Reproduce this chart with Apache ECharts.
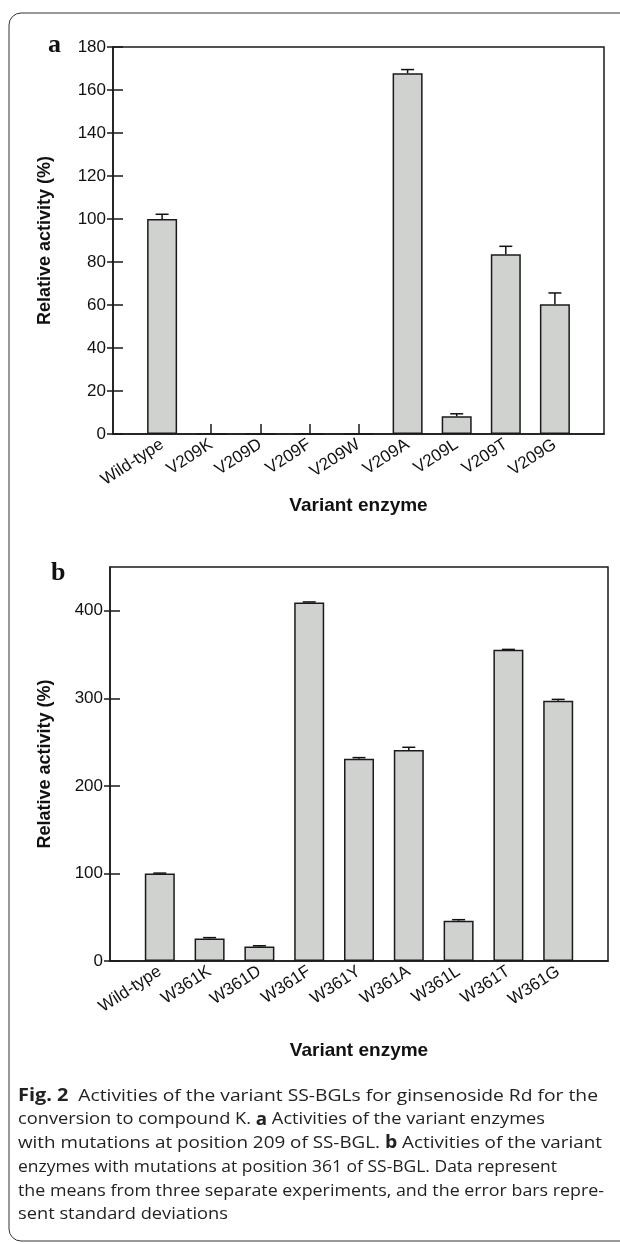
<!DOCTYPE html>
<html><head><meta charset="utf-8">
<script src="https://cdn.jsdelivr.net/npm/echarts@6/dist/echarts.min.js"></script>
<style>html,body{margin:0;padding:0;background:#fff}#c{width:620px;height:1244px}</style>
</head><body><div id="c"></div>
<script>
const categoriesA = ['Wild-type','V209K','V209D','V209F','V209W','V209A','V209L','V209T','V209G'];
const valuesA = [100, 0, 0, 0, 0, 167.8, 8.2, 83.6, 60.4];
const errorsA = [2.2, 0, 0, 0, 0, 1.7, 1.2, 3.7, 5.2];
const categoriesB = ['Wild-type','W361K','W361D','W361F','W361Y','W361A','W361L','W361T','W361G'];
const valuesB = [100, 25.7, 16.6, 409.5, 230.9, 241.1, 46, 355.4, 297.3];
const errorsB = [0.4, 1.0, 0.8, 0.6, 1.4, 3.0, 1.2, 0.5, 1.5];
const yTicksA = [0, 20, 40, 60, 80, 100, 120, 140, 160, 180];
const yTicksB = [0, 100, 200, 300, 400];
const yMaxA = 180, yMaxB = 450;
const yTitle = 'Relative activity (%)';
const xTitle = 'Variant enzyme';
// caption lines: [text segments], bold segments flagged
const captionLines = [
  [['Fig. 2', true], ['  Activities of the variant SS-BGLs for ginsenoside Rd for the', false]],
  [['conversion to compound K. ', false], ['a', true], [' Activities of the variant enzymes', false]],
  [['with mutations at position 209 of SS-BGL. ', false], ['b', true], [' Activities of the variant', false]],
  [['enzymes with mutations at position 361 of SS-BGL. Data represent', false]],
  [['the means from three separate experiments, and the error bars repre-', false]],
  [['sent standard deviations', false]]
];
// approximate right edge of each caption line in the reference (layout only)
const captionRight = [598, 545, 602, 557, 604, 228];

const INK = '#1a1a1a';
const SANS = '"Liberation Sans", Arial, sans-serif';
const CAP = '"Open Sans", "Noto Sans", sans-serif';
const CAP_SIZE = 16.5, CAP_BOLD = 17;
const catIdx = [0,1,2,3,4,5,6,7,8];

function xAxisFor(g, cats, gap) {
  return {
    type: 'value', gridIndex: g, min: -1, max: 9, interval: 1, position: 'bottom',
    axisLine: {show: true, onZero: false, lineStyle: {color: INK, width: 1.5}},
    axisTick: {show: true, inside: true, length: 10, customValues: catIdx, lineStyle: {color: INK, width: 1.5}},
    axisLabel: {show: true, customValues: catIdx, rotate: 33, margin: 9, fontFamily: SANS, fontSize: 17, color: '#111',
      formatter: v => cats[v] || ''},
    splitLine: {show: false},
    name: xTitle, nameLocation: 'middle', nameGap: gap,
    nameTextStyle: {fontFamily: SANS, fontWeight: 'bold', fontSize: 19, color: '#111'}
  };
}
function yAxisFor(g, max, ticks, step, gap) {
  return {
    type: 'value', gridIndex: g, min: 0, max: max, interval: step, position: 'left',
    axisLine: {show: true, onZero: false, lineStyle: {color: INK, width: 1.5}},
    axisTick: {show: true, inside: false, length: 6, customValues: ticks, lineStyle: {color: INK, width: 1.5}},
    axisLabel: {show: true, customValues: ticks, margin: 7, fontFamily: SANS, fontSize: 17, color: '#111'},
    splitLine: {show: false},
    name: yTitle, nameLocation: 'middle', nameGap: gap, nameRotate: 90,
    nameTextStyle: {fontFamily: SANS, fontWeight: 'bold', fontSize: 18, color: '#111'}
  };
}
function yInnerFor(g, max, ticks, step) {
  return {
    type: 'value', gridIndex: g, min: 0, max: max, interval: step, position: 'left', offset: 0,
    axisLine: {show: false, onZero: false},
    axisTick: {show: true, inside: true, length: 10, customValues: ticks, lineStyle: {color: INK, width: 1.5}},
    axisLabel: {show: false}, splitLine: {show: false}
  };
}
function barSeries(xi, yi, vals) {
  return {
    type: 'bar', xAxisIndex: xi, yAxisIndex: yi, barWidth: 30,
    data: vals.map((v, i) => [i, v]),
    itemStyle: {color: '#d0d2d0', borderColor: INK, borderWidth: 1.5},
    silent: true
  };
}
function errSeries(xi, yi, vals, errs) {
  return {
    type: 'custom', xAxisIndex: xi, yAxisIndex: yi, z: 5, silent: true,
    data: vals.map((v, i) => [i, v, errs[i]]),
    renderItem: (params, api) => {
      const i = api.value(0), v = api.value(1), e = api.value(2);
      if (!(e > 0)) return null;
      const p0 = api.coord([i, v]), p1 = api.coord([i, v + e]);
      const hw = 6.5;
      return {type: 'group', children: [
        {type: 'line', shape: {x1: p0[0], y1: p0[1], x2: p1[0], y2: p1[1]}, style: {stroke: '#111', lineWidth: 1.5}},
        {type: 'line', shape: {x1: p1[0] - hw, y1: p1[1], x2: p1[0] + hw, y2: p1[1]}, style: {stroke: '#111', lineWidth: 1.5}}
      ]};
    }
  };
}

// caption: measure each line and stretch it horizontally to the reference line length
const mctx = document.createElement('canvas').getContext('2d');
function lineWidth(segs) {
  let w = 0;
  segs.forEach(([t, b]) => {
    mctx.font = (b ? 'bold ' + CAP_BOLD : CAP_SIZE) + 'px ' + CAP;
    w += mctx.measureText(t).width;
  });
  return w;
}
const CAP_LEFT = 18;
const captionGraphics = captionLines.map((segs, k) => {
  const w = lineWidth(segs);
  let s = (captionRight[k] - CAP_LEFT) / w;
  s = Math.max(0.85, Math.min(1.3, s));
  const text = segs.map(([t, b]) => b ? '{b|' + t + '}' : t).join('');
  return {
    type: 'text', x: CAP_LEFT, y: 1096 + k * 23.7, scaleX: s, silent: true,
    style: {x: 0, y: 0, text: text, font: CAP_SIZE + 'px ' + CAP, fill: '#222', verticalAlign: 'middle', align: 'left',
      rich: {b: {fontWeight: 'bold', fontFamily: CAP, fontSize: CAP_BOLD, fill: '#222'}}}
  };
});

const chart = echarts.init(document.getElementById('c'), null, {renderer: 'canvas'});
chart.setOption({
  animation: false,
  backgroundColor: '#fff',
  grid: [
    {left: 113, top: 47, width: 491, height: 387, show: true, borderColor: INK, borderWidth: 1.5, backgroundColor: 'transparent'},
    {left: 110, top: 567, width: 498, height: 394, show: true, borderColor: INK, borderWidth: 1.5, backgroundColor: 'transparent'}
  ],
  xAxis: [xAxisFor(0, categoriesA, 62), xAxisFor(1, categoriesB, 80)],
  yAxis: [yAxisFor(0, yMaxA, yTicksA, 20, 59), yAxisFor(1, yMaxB, yTicksB, 50, 56), yInnerFor(0, yMaxA, yTicksA, 20), yInnerFor(1, yMaxB, yTicksB, 50)],
  series: [
    barSeries(0, 0, valuesA), errSeries(0, 0, valuesA, errorsA),
    barSeries(1, 1, valuesB), errSeries(1, 1, valuesB, errorsB)
  ],
  graphic: [
    {type: 'rect', silent: true, z: -1, shape: {x: 9, y: 13, width: 660, height: 1228, r: 12}, style: {fill: 'none', stroke: '#333', lineWidth: 1}},
    {type: 'text', left: 48, top: 32, silent: true, style: {text: 'a', font: 'bold 26px "Liberation Serif", "Times New Roman", serif', fill: '#111'}},
    {type: 'text', left: 51, top: 560, silent: true, style: {text: 'b', font: 'bold 26px "Liberation Serif", "Times New Roman", serif', fill: '#111'}}
  ].concat(captionGraphics)
});
</script></body></html>
